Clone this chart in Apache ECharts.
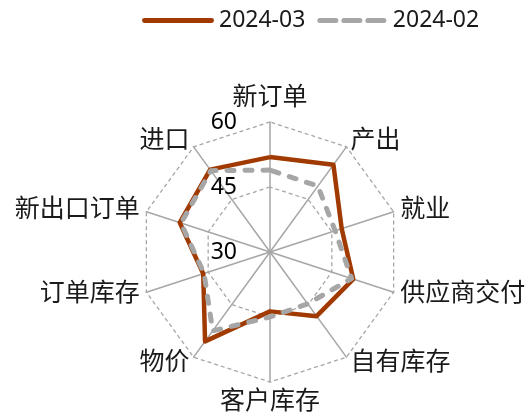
<!DOCTYPE html>
<html>
<head>
<meta charset="utf-8">
<script src="https://cdn.jsdelivr.net/npm/echarts@6/dist/echarts.min.js"></script>
<style>
  html, body { margin: 0; padding: 0; background: #fff; }
  #chart { width: 531px; height: 420px; }
</style>
</head>
<body>
<div id="chart"></div>
<script>
// 指标，按顺时针顺序（从正上方开始）
const indicators = ['新订单', '产出', '就业', '供应商交付', '自有库存', '客户库存', '物价', '订单库存', '新出口订单', '进口'];
const mar2024 = [51.9, 54.9, 47.4, 50.2, 48.3, 43.7, 55.5, 46.2, 51.9, 53.5];
const feb2024 = [48.9, 48.8, 45.8, 49.8, 44.8, 45.0, 52.5, 46.0, 51.6, 53.2];
const seriesNames = ['2024-03', '2024-02'];
const axisMin = 30;
const axisMax = 60;

// echarts 雷达图是逆时针排列的，这里把顺序翻过来
function ccw(arr) {
    return [arr[0]].concat(arr.slice(1).reverse());
}

const font = '"Noto Sans", "Noto Sans CJK SC", sans-serif';
let myChart = echarts.init(document.getElementById('chart'));
myChart.setOption({
    textStyle: { fontFamily: font },
    legend: {
        top: 4,
        left: 137,
        itemGap: 12,
        itemWidth: 72,
        itemHeight: 5,
        textStyle: { fontSize: 23, color: '#1a1a1a', fontFamily: font },
        data: [
            { name: '2024-03', icon: 'path://M2,0h68a2,2 0 0 1 0,5h-68a2,2 0 0 1 0,-5z' },
            { name: '2024-02', icon: 'path://M2,0h16a2,2 0 0 1 0,5h-16a2,2 0 0 1 0,-5z M26,0h16a2,2 0 0 1 0,5h-16a2,2 0 0 1 0,-5z M50,0h16a2,2 0 0 1 0,5h-16a2,2 0 0 1 0,-5z' }
        ]
    },
    radar: {
        center: [270, 252],
        radius: 130,
        startAngle: 90,
        splitNumber: 2,
        shape: 'polygon',
        nameGap: 7,
        axisName: { color: '#1a1a1a', fontSize: 25, fontFamily: font },
        axisLine: { lineStyle: { color: '#a6a6a6', width: 1.5 } },
        splitLine: { lineStyle: { color: '#a6a6a6', width: 1.3, type: [4, 3] } },
        splitArea: { show: false },
        axisTick: { show: false },
        axisLabel: { show: false },
        indicator: ccw(indicators).map(function (name, i) {
            let ind = { name: name, min: axisMin, max: axisMax };
            if (i === 0) {
                ind.axisLabel = { show: true, fontSize: 23, color: '#000', margin: 33, fontFamily: font };
            }
            return ind;
        })
    },
    series: [
        {
            type: 'radar',
            name: seriesNames[0],
            symbol: 'none',
            color: '#a03a00',
            lineStyle: { width: 4.5, color: '#a03a00' },
            data: [{ name: seriesNames[0], value: ccw(mar2024) }]
        },
        {
            type: 'radar',
            name: seriesNames[1],
            symbol: 'none',
            color: '#a6a6a6',
            lineStyle: { width: 5, color: '#a6a6a6', type: [7, 11], cap: 'round' },
            data: [{ name: seriesNames[1], value: ccw(feb2024) }]
        }
    ]
});
</script>
</body>
</html>
